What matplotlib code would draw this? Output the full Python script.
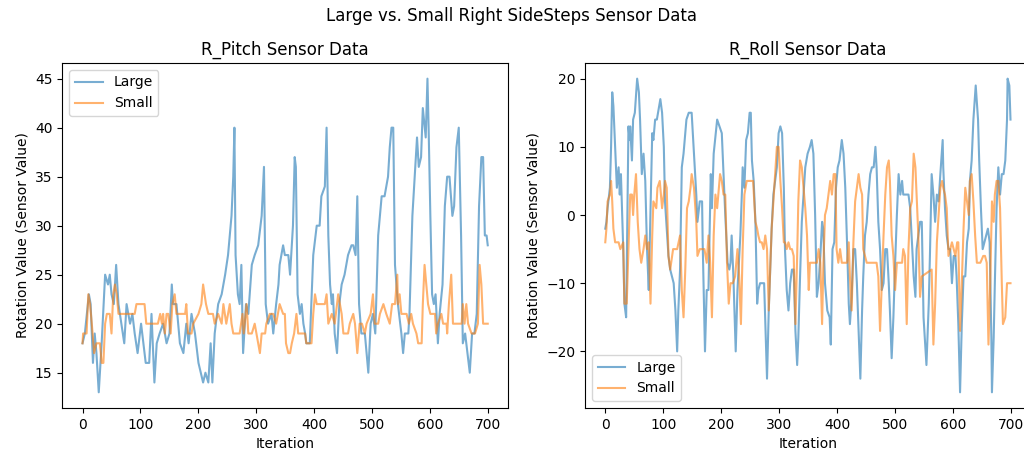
import matplotlib
matplotlib.use("Agg")
import matplotlib.pyplot as plt

# ---- data (keypoints: iteration, value) ----
pitch_large_x = [0,4,11,14,18,21,24,28,33,39,44,47,50,54,58,62,67,72,76,82,86,90,95,101,105,109,115,119,124,128,133,139,145,150,154,156,162,168,174,179,183,188,194,200,208,212,217,221,224,228,234,240,246,251,257,260,262,264,268,271,274,277,282,286,292,297,303,309,313,316,320,326,329,334,338,340,346,349,355,358,361,363,366,368,371,375,378,381,384,386,392,398,404,409,412,418,421,424,427,430,432,435,439,443,447,452,458,464,467,471,474,477,481,487,493,497,501,505,510,516,521,527,530,533,536,539,544,550,553,556,562,564,569,573,577,580,584,587,592,595,597,600,603,606,609,613,616,621,625,629,633,638,641,645,649,653,656,660,664,668,672,676,680,684,688,691,694,697,699]
pitch_large_y = [18,19,23,22,16,19,17,13,18,25,24,25,23,22,26,22,20,18,22,20,21,19,17,20,18,16,16,21,14,18,19,20,18,19,24,22,22,18,17,20,18,21,19,16,14,15,14,18,14,19,22,23,25,27,31,35,40,27,23,22,26,17,22,21,26,27,28,31,36,22,20,21,19,22,24,26,28,27,27,25,28,30,37,36,23,21,22,20,19,18,18,27,30,30,33,34,40,29,24,22,23,19,17,22,24,25,27,28,28,27,33,22,19,19,15,20,21,19,29,33,33,35,38,40,40,26,22,19,17,19,19,21,31,35,39,36,37,42,39,45,40,31,23,22,23,18,21,24,32,35,35,31,32,38,40,29,18,19,17,15,19,19,21,32,37,37,29,29,28]

pitch_small_x = [0,1,7,10,13,16,20,24,30,33,36,39,42,47,50,53,56,59,62,90,93,107,110,130,134,137,139,142,145,148,152,155,159,162,177,179,182,188,191,200,205,208,213,217,225,228,234,240,243,248,254,257,260,271,276,278,283,286,292,297,303,306,309,315,317,323,329,334,340,346,349,351,355,358,361,365,369,372,384,386,395,398,401,404,418,421,424,430,435,441,447,450,458,461,467,470,474,478,482,487,490,497,501,504,510,513,519,524,530,534,539,543,544,547,550,559,563,567,570,576,579,585,587,590,593,596,600,608,610,613,619,622,628,629,632,636,639,654,656,659,662,665,671,677,682,685,688,691,699]
pitch_small_y = [18,19,19,23,22,20,17,18,18,16,16,20,21,21,19,23,24,23,21,21,22,22,20,20,21,20,21,19,21,21,19,22,23,21,21,22,19,19,20,21,22,24,22,21,21,20,21,20,22,20,22,20,19,19,21,19,22,19,19,20,18,17,19,19,20,21,21,20,22,21,21,18,17,17,18,19,21,19,19,18,18,21,23,22,22,23,20,21,20,23,21,19,19,20,21,20,17,20,20,19,20,21,23,20,20,21,22,21,20,22,22,25,22,23,21,21,20,21,20,19,18,18,22,26,24,22,21,21,19,20,21,20,20,19,22,25,20,20,22,20,22,20,19,19,20,26,24,20,20]

roll_large_x = [0,2,4,8,10,12,14,17,20,23,25,27,31,33,36,37,40,42,43,46,48,51,55,58,60,63,66,69,72,75,76,81,83,86,89,95,98,101,103,106,109,112,118,121,124,126,129,132,135,140,144,149,153,157,159,163,167,168,172,175,178,182,184,187,193,197,201,204,207,211,214,216,218,221,225,228,233,236,237,240,243,246,249,251,253,256,259,262,264,267,270,274,279,282,285,287,290,296,299,302,305,308,310,313,316,319,322,325,328,331,333,336,339,342,345,349,353,356,359,362,365,368,371,374,376,379,383,387,389,392,395,398,401,404,408,411,414,417,420,422,425,428,431,434,437,440,443,445,448,451,454,457,460,463,466,468,471,474,477,480,483,486,489,491,494,497,500,503,506,509,512,514,523,526,529,532,535,537,540,543,546,549,554,558,560,563,566,569,572,575,578,582,583,586,589,592,595,598,601,604,606,609,612,615,618,621,624,627,629,632,635,639,643,645,648,651,654,657,660,663,666,667,670,672,675,678,681,684,687,690,693,694,697,699]
roll_large_y = [-2,-1,1,4,10,18,16,10,4,7,3,6,-5,-13,-15,-8,13,11,13,8,14,15,20,18,14,6,9,5,-5,-11,-7,12,11,14,14,17,15,10,2,-2,-6,-8,-10,-14,-20,-14,-8,7,9,14,15,15,9,3,-1,2,2,-4,-20,-11,-11,6,1,9,14,13,12,6,0,-7,-8,-7,-3,-9,-20,-11,-3,4,7,4,11,12,15,15,8,5,-1,-13,-11,-10,-10,-10,-24,-14,-7,-2,3,7,12,13,12,4,-5,-11,-14,-10,-8,-8,-17,-22,-18,-9,-1,3,7,9,10,11,9,0,-12,-10,-6,-1,-2,-10,-14,-15,-19,-5,-4,4,7,8,11,9,4,-4,-13,-16,-12,-5,-5,-10,-17,-24,-14,-9,-3,-1,3,6,7,7,10,7,-1,-5,-11,-10,-5,-5,-10,-14,-21,-15,-7,0,6,3,5,3,3,1,-4,-9,-12,-5,-3,-1,-1,-15,-22,-13,-6,6,3,-1,3,2,6,11,7,1,-3,-5,-5,-10,-6,-6,-9,-16,-26,-16,-9,-9,-4,-2,5,8,14,19,14,8,1,-5,-4,-3,-2,-4,-18,-26,-18,-10,1,7,3,6,6,8,14,20,19,14]

roll_small_x = [0,2,4,8,10,12,14,17,20,23,26,31,33,37,40,43,46,48,50,53,56,59,62,66,69,72,75,78,81,83,88,90,94,96,98,101,103,106,109,112,117,124,129,132,135,138,141,144,147,149,153,157,159,163,167,171,175,178,181,184,187,190,193,196,198,201,204,207,210,213,216,220,224,228,231,234,237,240,244,247,251,255,259,262,264,267,270,273,276,279,282,285,287,290,293,296,299,302,305,308,310,313,316,319,322,325,328,331,333,336,339,342,345,348,351,353,362,365,368,371,374,376,379,382,385,388,391,394,397,399,402,405,408,411,417,420,422,425,428,431,434,437,440,443,445,448,451,468,471,474,477,480,483,486,489,491,494,497,500,503,512,514,517,520,523,526,529,532,535,537,540,543,546,563,566,569,572,575,578,581,583,586,589,592,595,598,601,604,607,609,612,615,618,621,624,627,629,632,635,638,641,647,652,655,658,661,664,667,670,672,675,678,681,684,686,690,693,699]
roll_small_y = [-4,-2,2,3,5,2,-2,-4,-4,-4,-5,-4,-13,-13,-5,3,3,0,3,6,-1,-5,-7,-5,-3,-5,-4,-13,-3,2,1,4,5,3,1,3,5,4,-6,-8,-5,-5,-3,-11,-15,-8,1,2,4,6,4,-1,-6,-5,-5,-5,-7,-3,-7,-15,-3,3,1,4,6,5,3,3,-7,-13,-10,-10,-9,-5,-9,-16,-5,3,5,5,5,5,-1,-2,-3,-4,-4,-5,-3,-5,-14,-7,-2,2,6,10,10,5,1,-4,-4,-5,-4,-5,-5,-6,-16,-6,2,8,7,4,1,-3,-11,-7,-7,-7,-5,-7,-16,-8,0,1,3,5,3,6,6,-5,-7,-5,-7,-7,-7,-4,-9,-14,-4,2,4,6,4,3,-5,-6,-7,-7,-9,-17,-10,-3,3,7,8,5,-3,-6,-11,-7,-7,-5,-6,-16,-5,1,2,9,7,3,-3,-12,-9,-8,-19,-13,-4,0,4,5,4,3,1,-6,-5,-4,-5,-6,-4,-4,-17,-10,-2,4,2,0,5,6,2,-3,-7,-7,-6,-6,-7,-19,-10,2,-1,3,5,5,1,-10,-16,-15,-10,-10]

labels = ["Large", "Small"]
suptitle = "Large vs. Small Right SideSteps Sensor Data"
titles = ["R_Pitch Sensor Data", "R_Roll Sensor Data"]
xlabel = "Iteration"
ylabel = "Rotation Value (Sensor Value)"

fig = plt.figure(figsize=(10.24, 4.58), dpi=100)
ax1 = fig.add_axes([0.0608, 0.1092, 0.4353, 0.7533])
ax2 = fig.add_axes([0.5713, 0.1092, 0.4353, 0.7533])

ax1.plot(pitch_large_x, pitch_large_y, color="C0", alpha=0.6, label=labels[0])
ax1.plot(pitch_small_x, pitch_small_y, color="C1", alpha=0.6, label=labels[1])
ax1.set_xlim(-34.95, 733.95)
ax1.set_ylim(11.4, 46.6)
ax1.set_title(titles[0])
ax1.set_xlabel(xlabel)
ax1.set_ylabel(ylabel)
ax1.legend(loc="upper left")

ax2.plot(roll_large_x, roll_large_y, color="C0", alpha=0.6, label=labels[0])
ax2.plot(roll_small_x, roll_small_y, color="C1", alpha=0.6, label=labels[1])
ax2.set_xlim(-34.95, 733.95)
ax2.set_ylim(-28.3, 22.3)
ax2.set_title(titles[1])
ax2.set_xlabel(xlabel)
ax2.set_ylabel(ylabel)
ax2.legend(loc="lower left")

fig.suptitle(suptitle, y=0.985)
fig.savefig("out.png", dpi=100)
